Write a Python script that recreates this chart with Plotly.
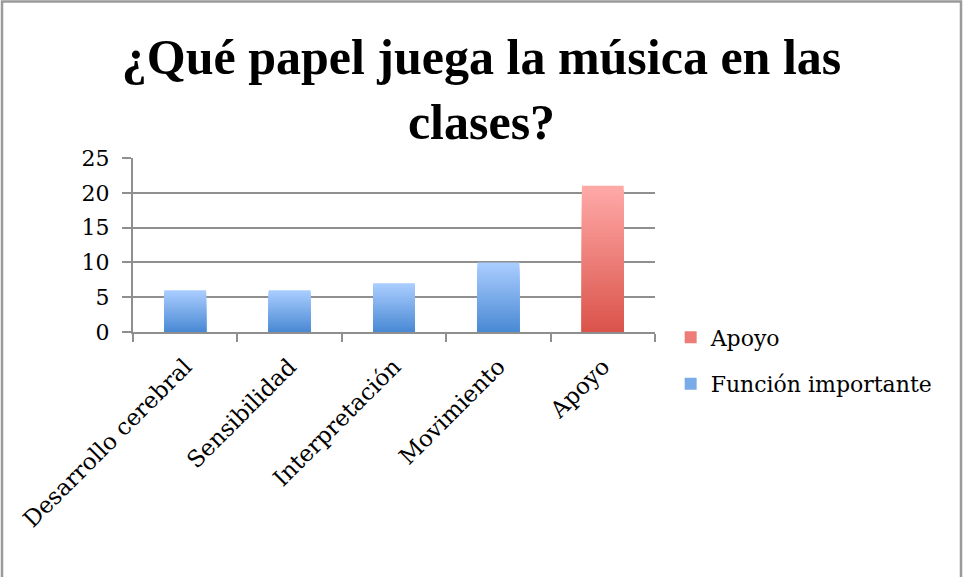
import plotly.graph_objects as go

# data
categories = ["Desarrollo cerebral", "Sensibilidad", "Interpretación", "Movimiento", "Apoyo"]
funcion_cats = ["Desarrollo cerebral", "Sensibilidad", "Interpretación", "Movimiento"]
funcion_vals = [6, 6, 7, 10]
apoyo_cats = ["Apoyo"]
apoyo_vals = [21]

W, H = 963, 577
ML, MR, MT, MB = 133, 308, 158, 245

SERIF = "DejaVu Serif"
GRID = "#8f8f8f"


def mix(c1, c2, t):
    a = [int(c1[i:i + 2], 16) for i in (1, 3, 5)]
    b = [int(c2[i:i + 2], 16) for i in (1, 3, 5)]
    return "#" + "".join("%02x" % round(a[i] + (b[i] - a[i]) * t) for i in range(3))


# fake a vertical gradient (light top -> dark bottom) by overlaying shorter, darker copies
def gradient_bars(x, y, top, bottom, name, rank, steps=40):
    traces = []
    for k in range(steps):
        f = 1 - k / steps
        traces.append(go.Bar(
            x=x, y=[v * f for v in y],
            marker=dict(color=mix(top, bottom, k / (steps - 1)), line=dict(width=0)),
            name=name, legendgroup=name, legendrank=rank,
            showlegend=(k == steps // 2),
            hoverinfo="skip" if k else "x+y",
        ))
    return traces


fig = go.Figure()
for t in gradient_bars(funcion_cats, funcion_vals, "#aacdff", "#4a8ad4", "Función importante", 2):
    fig.add_trace(t)
for t in gradient_bars(apoyo_cats, apoyo_vals, "#ffa9a7", "#da544b", "Apoyo", 1):
    fig.add_trace(t)

pw = W - ML - MR
ph = H - MT - MB
px = lambda v: (v - ML) / pw          # pixel column -> paper x
py = lambda v: (H - MB - v) / ph      # pixel row -> paper y

# outer chart border
fig.add_shape(type="rect", xref="paper", yref="paper",
              x0=px(2), x1=px(961), y0=py(640), y1=py(1.5),
              line=dict(color="#9a9a9a", width=2.5), fillcolor="rgba(0,0,0,0)", layer="above")

fig.update_layout(
    width=W, height=H,
    margin=dict(l=ML, r=MR, t=MT, b=MB),
    paper_bgcolor="white", plot_bgcolor="white",
    barmode="overlay", bargap=0.6,
    title=dict(text="<b>¿Qué papel juega la música en las<br>clases?</b>",
               x=0.5, xref="container", xanchor="center",
               y=1 - 74 / H, yref="container", yanchor="top",
               font=dict(family="Liberation Serif", size=50, color="black")),
    legend=dict(x=1.03, y=0.09, xanchor="left", yanchor="top",
                traceorder="grouped", tracegroupgap=15,
                font=dict(family=SERIF, size=22, color="black"),
                bgcolor="rgba(0,0,0,0)"),
    showlegend=True,
)
fig.update_xaxes(categoryorder="array", categoryarray=categories,
                 showline=True, linecolor=GRID, linewidth=2,
                 ticks="outside", tickson="boundaries", ticklen=8, tickcolor=GRID, tickwidth=2,
                 tickangle=-45, ticklabelstandoff=10,
                 tickfont=dict(family=SERIF, size=23, color="black"),
                 showgrid=False)
fig.update_yaxes(range=[0, 25], dtick=5,
                 showline=True, linecolor=GRID, linewidth=2,
                 ticks="outside", ticklen=9, tickcolor=GRID, tickwidth=2,
                 ticklabelstandoff=8,
                 gridcolor=GRID, gridwidth=2, zeroline=False,
                 tickfont=dict(family=SERIF, size=22, color="black"))

fig.write_html("out.html", config={"displayModeBar": False},
               post_script="document.body.style.margin='0';document.body.style.overflow='hidden';")
